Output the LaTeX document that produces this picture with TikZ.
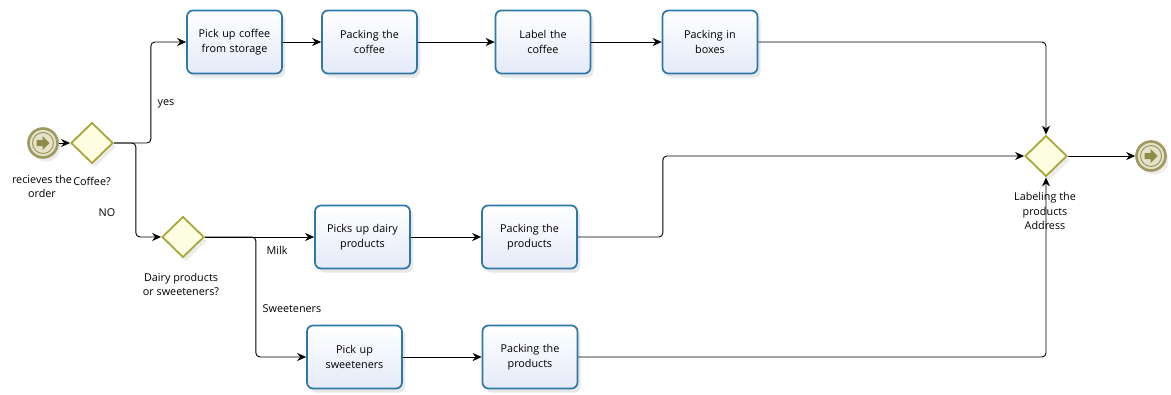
\documentclass[tikz,border=0pt]{standalone}
\usepackage{fontspec}
\setmainfont{Open Sans}
\usetikzlibrary{arrows.meta,shapes.geometric,shadows}
\definecolor{taskline}{HTML}{2E78A8}
\definecolor{taskbot}{HTML}{E4EAF8}
\definecolor{gateline}{HTML}{A8A83A}
\definecolor{gatefill}{HTML}{FDFDE2}
\definecolor{evline}{HTML}{9C9A5E}
\definecolor{evfill}{HTML}{E4E2C8}
\definecolor{evarrow}{HTML}{8E8C48}
\tikzset{
  txt/.style={font=\fontsize{10.8}{14.5}\selectfont, align=center},
  task/.style={txt, draw=taskline, line width=1.7pt, rounded corners=6pt,
    top color=white, bottom color=taskbot, minimum width=95pt, minimum height=63pt,
    inner sep=2pt, text width=90pt,
    drop shadow={opacity=0.18, shadow xshift=3pt, shadow yshift=-4pt}},
  gate/.style={diamond, draw=gateline, line width=1.8pt, fill=gatefill,
    minimum width=42pt, minimum height=41pt, inner sep=0pt,
    drop shadow={opacity=0.15, shadow xshift=3pt, shadow yshift=-4pt}},
  event/.style={circle, draw=evline, line width=2.6pt, fill=evfill,
    minimum size=29pt, inner sep=0pt,
    drop shadow={opacity=0.15, shadow xshift=3pt, shadow yshift=-4pt}},
  flow/.style={draw=black, line width=0.9pt, rounded corners=4pt,
    -{Stealth[length=9pt,width=8pt]}},
  lbl/.style={txt, inner sep=0pt},
}
% event glyph: inner ring and a right-pointing block arrow
\newcommand{\evglyph}[1]{%
  \draw[evline, line width=1pt] (#1) circle (10.5pt);
  \fill[evarrow] ([xshift=-6.5pt,yshift=-3pt]#1) -- ++(6pt,0) -- ++(0,-4pt)
    -- ++(7pt,7pt) -- ++(-7pt,7pt) -- ++(0,-4pt) -- ++(-6pt,0) -- cycle;
}
\begin{document}
\begin{tikzpicture}[x=1pt,y=-1pt]
\useasboundingbox (0,0) rectangle (1171,394);

% events
\node[event] (start) at (43,143) {};
\evglyph{start.center}
\node[event] (end) at (1151,156) {};
\evglyph{end.center}

% gateways
\node[gate] (g1) at (92,143) {};
\node[gate] (g2) at (183,237) {};
\node[gate] (g3) at (1046,156) {};

% coffee row
\node[task] (t1) at (234.5,42) {Pick up coffee\\from storage};
\node[task] (t2) at (369.5,42) {Packing the\\coffee};
\node[task] (t3) at (543,42) {Label the\\coffee};
\node[task] (t4) at (710,42) {Packing in\\boxes};

% dairy row
\node[task] (d1) at (362.5,237) {Picks up dairy\\products};
\node[task] (d2) at (529.5,237) {Packing the\\products};

% sweeteners row
\node[task] (s1) at (354.5,357) {Pick up\\sweeteners};
\node[task] (s2) at (530,357) {Packing the\\products};

% labels
\node[lbl] (lstart) at (42,186.5) {recieves the\\order};
\node[lbl] (lg1) at (92,181) {Coffee?};
\node[lbl] (lg2) at (181,284.5) {Dairy products\\or sweeteners?};
\node[lbl] (lg3) at (1045,211) {Labeling the\\products\\Address};
\node[lbl] (lyes) at (166,104) {yes};
\node[lbl] (lno) at (107,213) {NO};
\node[lbl] (lmilk) at (277,250) {Milk};
\node[lbl] (lsweet) at (292,309) {Sweeteners};

% sequence flows
\draw[flow] (start) -- (g1.west);
\draw[flow] (g1.east) -- ++(37,0) |- (t1.west);
\draw[flow] (g1.east) -- ++(22,0) |- (g2.west);
\draw[flow] (t1) -- (t2);
\draw[flow] (t2) -- (t3);
\draw[flow] (t3) -- (t4);
\draw[flow] (t4.east) -| (g3.north);
\draw[flow] (g2.east) -- (d1.west);
\draw[flow] (g2.east) -- ++(51,0) |- (s1.west);
\draw[flow] (d1) -- (d2);
\draw[flow] (d2.east) -- ++(85,0) |- (g3.west);
\draw[flow] (s1) -- (s2);
\draw[flow] (s2.east) -| (g3.south);
\draw[flow] (g3.east) -- (end.west);
\end{tikzpicture}
\end{document}
